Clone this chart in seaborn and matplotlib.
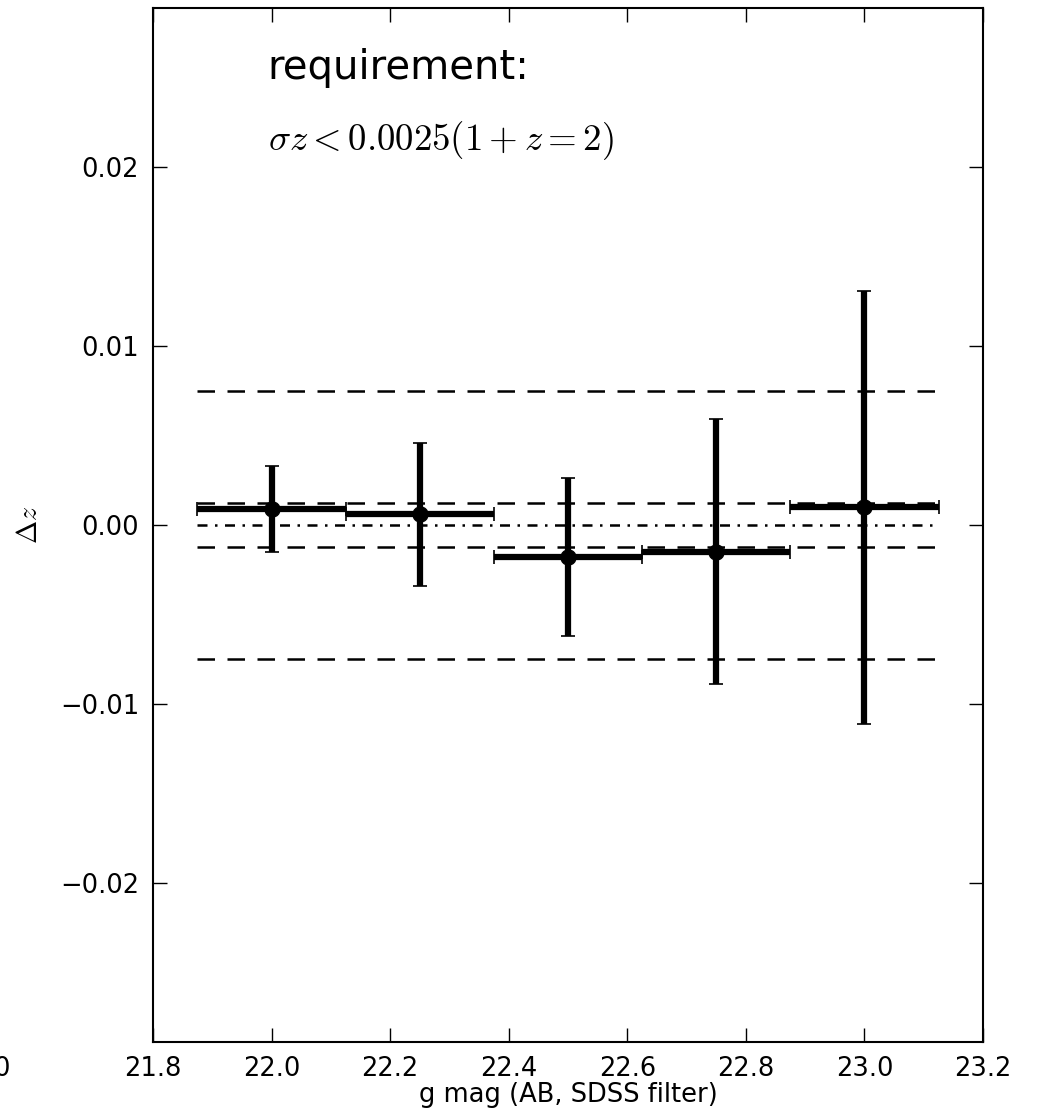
import numpy as np
import pandas as pd
import matplotlib
matplotlib.use("Agg")
import matplotlib.pyplot as plt
import seaborn as sns

# binned photo-z residuals
g_mag = [22.0, 22.25, 22.5, 22.75, 23.0]
dz = [0.0009, 0.0006, -0.0018, -0.0015, 0.0010]
dz_err = [0.0024, 0.0040, 0.0044, 0.0074, 0.0121]
bin_halfwidth = [0.125, 0.125, 0.125, 0.125, 0.125]

# requirement bands
req_inner = 0.00125
req_outer = 0.0075
x_span = [21.875, 23.125]

x_ticks = [21.8, 22.0, 22.2, 22.4, 22.6, 22.8, 23.0, 23.2]
y_ticks = [-0.02, -0.01, 0.0, 0.01, 0.02]

sns.set_style("white")
plt.rcParams["font.family"] = ["DejaVu Sans"]
plt.rcParams["mathtext.fontset"] = "cm"
plt.rcParams["text.color"] = "black"
plt.rcParams["axes.labelcolor"] = "black"
plt.rcParams["xtick.color"] = "black"
plt.rcParams["ytick.color"] = "black"

df = pd.DataFrame({"g": g_mag, "dz": dz})

fig = plt.figure(figsize=(10.42, 11.15), dpi=100)
ax = fig.add_axes([0.1468, 0.0655, 0.7966, 0.9273])

for y, ls in [(req_outer, "--"), (-req_outer, "--"), (req_inner, "--"),
              (-req_inner, "--"), (0.0, "-.")]:
    ax.plot(x_span, [y, y], color="black", ls=ls, lw=1.8,
            dashes=(7, 5) if ls == "--" else (4, 3, 1, 3))

ax.errorbar(g_mag, dz, yerr=dz_err, xerr=bin_halfwidth, fmt="none",
            ecolor="black", elinewidth=4.5, capsize=5, capthick=1.2)
sns.scatterplot(data=df, x="g", y="dz", color="black", s=120, ax=ax,
                edgecolor="black", zorder=5)

ax.set_xlim(21.8, 23.2)
ax.set_ylim(-0.0289, 0.0289)
ax.set_xticks(x_ticks)
ax.set_yticks(y_ticks)
ax.set_xticklabels([f"{t:.1f}" for t in x_ticks])
ax.set_yticklabels(["\u22120.02", "\u22120.01", "0.00", "0.01", "0.02"])
ax.tick_params(direction="in", length=10, width=1, labelsize=18.5,
               top=True, right=True, bottom=True, left=True, pad=10)
for sp in ax.spines.values():
    sp.set_linewidth(1.5)
    sp.set_color("black")

ax.set_xlabel("g mag (AB, SDSS filter)", fontsize=18.5, labelpad=0)
ax.set_ylabel(r"$\Delta z$", fontsize=20, labelpad=12)

ax.text(0.138, 0.942, "requirement:", transform=ax.transAxes, fontsize=29,
        va="center", ha="left")
ax.text(0.138, 0.872, r"$\sigma z < 0.0025 (1+z=2)$", transform=ax.transAxes,
        fontsize=26.5, va="center", ha="left")

fig.text(-0.006, 0.0415, "0", fontsize=18.5, va="center", ha="left")

fig.savefig("out.png", dpi=100)
